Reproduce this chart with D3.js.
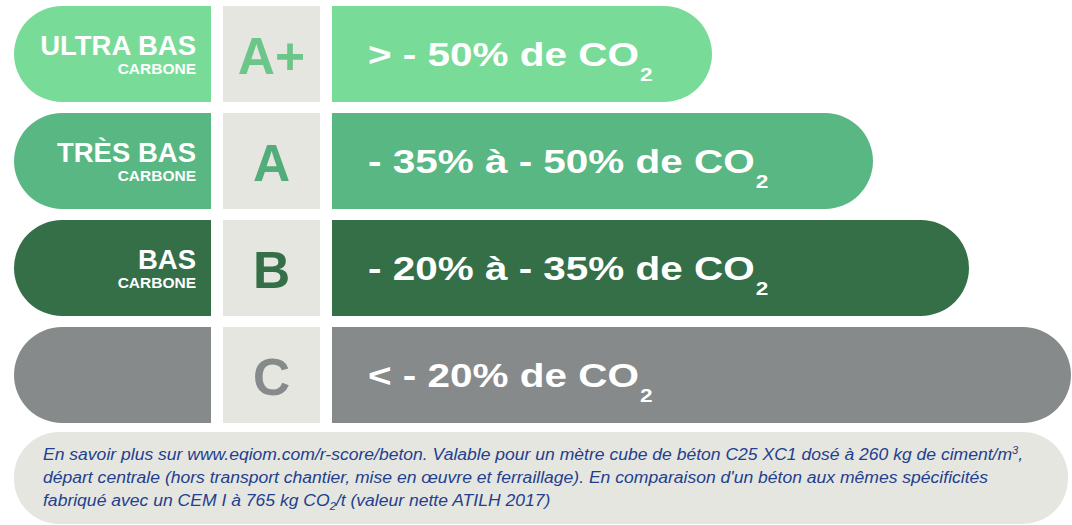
<!DOCTYPE html>
<html><head><meta charset="utf-8">
<script src="https://cdn.jsdelivr.net/npm/d3@7"></script>
<style>body{margin:0;background:#fff}svg{display:block}text{font-family:"Liberation Sans",Arial,sans-serif}</style>
</head><body><svg id="c" width="1072" height="525"></svg>
<script>
const classes = ["A+", "A", "B", "C"];
const labelMain = ["ULTRA BAS", "TRÈS BAS", "BAS", ""];
const labelSub = ["CARBONE", "CARBONE", "CARBONE", ""];
const rangeText = ["> - 50% de CO", "- 35% à - 50% de CO", "- 20% à - 35% de CO", "< - 20% de CO"];
const barLength = [380, 541, 637, 739];
const barColors = ["#78dc98", "#58b783", "#346f48", "#868a8b"];
const letterColors = ["#6cc68a", "#52ad7b", "#346f48", "#868a8b"];
const footerLines = [
  [{t:"En savoir plus sur www.eqiom.com/r-score/beton. Valable pour un mètre cube de béton C25 XC1 dosé à 260 kg de ciment/m"},{t:"3",sup:true},{t:","}],
  [{t:"départ centrale (hors transport chantier, mise en œuvre et ferraillage). En comparaison d'un béton aux mêmes spécificités"}],
  [{t:"fabriqué avec un CEM I à 765 kg CO"},{t:"2",sub:true},{t:"/t (valeur nette ATILH 2017)"}]
];

const FF = "'Liberation Sans', Arial, sans-serif";
const svg = d3.select("#c");
const y = d3.scaleBand().domain(classes).range([6, 423]).paddingInner(0.1028).paddingOuter(0);
const x = d3.scaleLinear().domain([0, 739]).range([332, 1071]);
const bw = y.bandwidth();
const r = bw / 2;
const leftX0 = 14, leftX1 = 211, sqX0 = 223, sqX1 = 320;

const rows = svg.selectAll("g.row").data(classes).join("g").attr("class","row");

rows.append("path")
  .attr("d", (d,i) => {
    const t = y(d), b = t + bw;
    return `M${leftX1},${t} L${leftX0 + r},${t} A${r},${r} 0 0 0 ${leftX0 + r},${b} L${leftX1},${b} Z`;
  })
  .attr("fill", (d,i) => barColors[i]);

rows.append("rect")
  .attr("x", sqX0).attr("width", sqX1 - sqX0)
  .attr("y", d => y(d)).attr("height", bw)
  .attr("fill", "#e6e6e0");

rows.append("path")
  .attr("d", (d,i) => {
    const t = y(d), b = t + bw, e = x(barLength[i]);
    return `M${x(0)},${t} L${e - r},${t} A${r},${r} 0 0 1 ${e - r},${b} L${x(0)},${b} Z`;
  })
  .attr("fill", (d,i) => barColors[i]);

rows.append("text")
  .attr("x", 196).attr("y", d => y(d) + r + 1)
  .attr("text-anchor","end").attr("fill","#fff").attr("font-family", FF)
  .attr("font-weight","bold").attr("font-size", 27.5)
  .text((d,i) => labelMain[i]);
rows.append("text")
  .attr("x", 196).attr("y", d => y(d) + r + 20)
  .attr("text-anchor","end").attr("fill","#fff").attr("font-family", FF)
  .attr("font-weight","bold").attr("font-size", 15.5)
  .text((d,i) => labelSub[i]);

rows.append("text")
  .attr("x", (sqX0 + sqX1) / 2).attr("y", d => y(d) + r + 20)
  .attr("text-anchor","middle").attr("font-family", FF)
  .attr("fill", (d,i) => letterColors[i])
  .attr("font-weight","bold").attr("font-size", 51.5)
  .text(d => d);

const rt = rows.append("text")
  .attr("transform", d => `translate(368,${y(d) + r + 12}) scale(1.19,1)`)
  .attr("fill","#fff").attr("font-weight","bold").attr("font-size", 34).attr("font-family", FF);
rt.append("tspan").text((d,i) => rangeText[i]);
rt.append("tspan").attr("dy", 15).attr("dx", 1).attr("font-size", 19).text("2");

svg.append("rect").attr("x", 14).attr("y", 432).attr("width", 1054).attr("height", 92)
  .attr("rx", 45).attr("ry", 45).attr("fill", "#e6e6e0");
footerLines.forEach((line, li) => {
  const t = svg.append("text")
    .attr("transform", `translate(43,${460 + li * 23}) scale(1.125,1)`)
    .attr("fill", "#22408e").attr("font-style","italic").attr("font-size", 15.6).attr("font-family", FF);
  line.forEach((seg, k) => {
    const s = t.append("tspan").text(seg.t);
    const prev = k > 0 ? line[k-1] : null;
    if (seg.sup) s.attr("dy", -6).attr("font-size", 10);
    else if (seg.sub) s.attr("dy", 4).attr("font-size", 10);
    else if (prev && prev.sup) s.attr("dy", 6);
    else if (prev && prev.sub) s.attr("dy", -4);
  });
});
</script></body></html>
